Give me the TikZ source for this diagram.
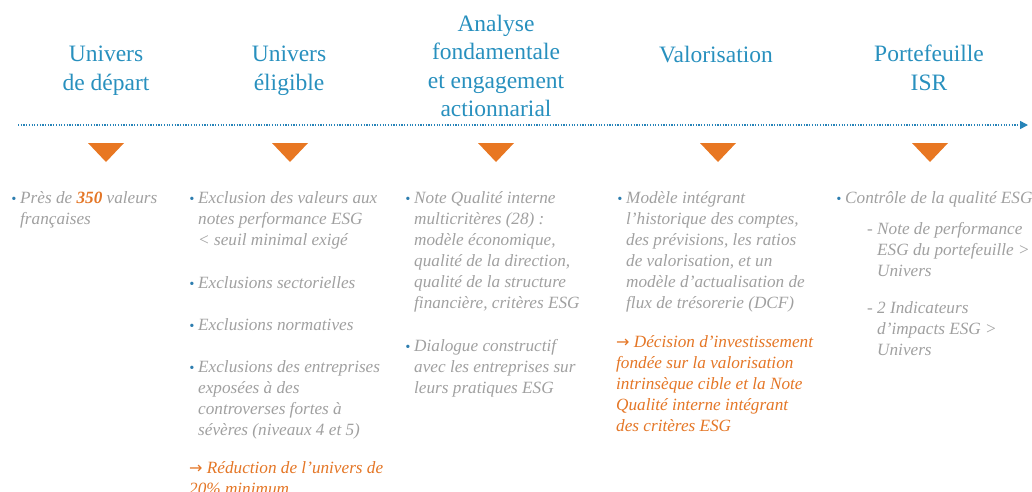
\documentclass[tikz,border=0pt]{standalone}
\usepackage{xcolor}
\usepackage{fontspec}
\setmainfont{Liberation Serif}
\newfontfamily\symbole{DejaVu Sans}
\usepackage{tikz}
\usetikzlibrary{positioning,arrows.meta}

\definecolor{titrebleu}{RGB}{40,144,190}
\definecolor{fristebleu}{RGB}{38,132,185}
\definecolor{pucebleu}{RGB}{45,125,175}
\definecolor{marqueorange}{RGB}{232,119,34}
\definecolor{texteorange}{RGB}{228,118,38}
\definecolor{textegris}{RGB}{160,160,160}

\newcommand{\puce}{\llap{{\color{pucebleu}\fontsize{14}{14}\selectfont\textbullet}\hspace{4pt}}}
\newcommand{\tiret}{\llap{-\ }}
\newcommand{\fleche}{{\symbole\fontsize{16}{16}\selectfont →}\ }

\begin{document}
\begin{tikzpicture}[x=1pt,y=-1pt,
    etape/.style={font=\fontsize{23.5}{28.5}\selectfont,text=titrebleu,align=center,anchor=base,inner sep=0pt},
    texte/.style={font=\fontsize{17.2}{21}\selectfont\itshape,text=textegris,align=left,anchor=base west,inner sep=0pt},
    conclusion/.style={texte,text=texteorange},
    frise/.style={fristebleu,line width=1.6pt,dash pattern=on 1.2pt off 1.5pt,-{Triangle[length=8pt,width=8pt]}},
    marqueur/.style={fill=marqueorange}]
    \useasboundingbox (0,0) rectangle (1032,491);
    \node[etape] (depart) at (106,90) {Univers\\de départ};
    \node[etape] (eligible) at (289,90) {Univers\\éligible};
    \node[etape] (analyse) at (496,116.5) {Analyse\\fondamentale\\et engagement\\actionnarial};
    \node[etape] (valo) at (716,62) {Valorisation};
    \node[etape] (portef) at (929,90) {Portefeuille\\ISR};
    \coordinate (debut) at (18,125);
    \coordinate (fin) at (1028,125);
    \draw[frise] (debut) -- (fin);
    \foreach \x in {106,290,496,718,930}
        \fill[marqueur] (\x-18,143) -- ++(36,0) -- ++(-18,19) -- cycle;
    \node[texte] (univ) at (20,224) {\puce Près de {\bfseries\color{texteorange}350} valeurs\\françaises};
    \node[texte] (excl1) at (198,245) {\puce Exclusion des valeurs aux\\notes performance ESG\\< seuil minimal exigé};
    \node[texte] (excl2) at (198,288) {\puce Exclusions sectorielles};
    \node[texte] (excl3) at (198,330) {\puce Exclusions normatives};
    \node[texte] (excl4) at (198,435) {\puce Exclusions des entreprises\\exposées à des\\controverses fortes à\\sévères (niveaux 4 et 5)};
    \node[conclusion] (reduc) at (189,494) {\fleche Réduction de l’univers de\\20\% minimum};
    \node[texte] (note) at (414,308) {\puce Note Qualité interne\\multicritères (28) :\\modèle économique,\\qualité de la direction,\\qualité de la structure\\financière, critères ESG};
    \node[texte] (dialogue) at (414,393) {\puce Dialogue constructif\\avec les entreprises sur\\leurs pratiques ESG};
    \node[texte] (modele) at (626,308) {\puce Modèle intégrant\\l’historique des comptes,\\des prévisions, les ratios\\de valorisation, et un\\modèle d’actualisation de\\flux de trésorerie (DCF)};
    \node[conclusion] (decision) at (616,431) {\fleche Décision d’investissement\\fondée sur la valorisation\\intrinsèque cible et la Note\\Qualité interne intégrant\\des critères ESG};
    \node[texte] (controle) at (845,203) {\puce Contrôle de la qualité ESG};
    \node[texte] (perf) at (877,276) {\tiret Note de performance\\ESG du portefeuille >\\Univers};
    \node[texte] (impacts) at (877,355) {\tiret 2 Indicateurs\\d’impacts ESG >\\Univers};
\end{tikzpicture}
\end{document}
